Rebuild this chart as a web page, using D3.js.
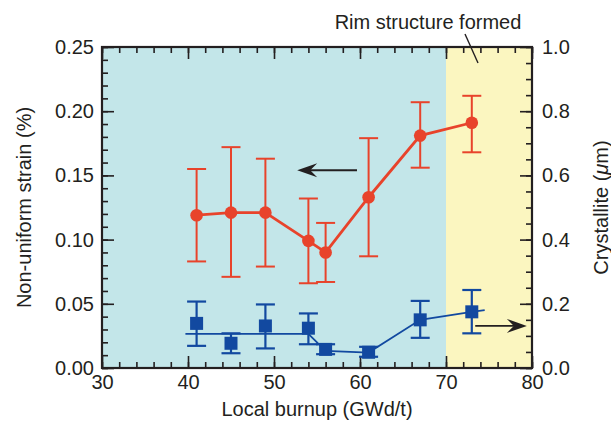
<!DOCTYPE html>
<html>
<head>
<meta charset="utf-8">
<script src="https://cdn.jsdelivr.net/npm/d3@7"></script>
<style>
  html, body { margin: 0; padding: 0; background: #fff; }
  text { font-family: "Liberation Sans", Arial, Helvetica, sans-serif; fill: #231f20; }
</style>
</head>
<body>
<svg id="chart" width="611" height="424"></svg>
<script>
// ---- data ----
const burnup   = [41, 45, 49, 54, 56, 61, 67, 73];
const strain   = [0.119, 0.121, 0.121, 0.099, 0.090, 0.133, 0.181, 0.191];
const strainHi = [0.155, 0.172, 0.163, 0.132, 0.113, 0.179, 0.207, 0.212];
const strainLo = [0.083, 0.071, 0.079, 0.066, 0.067, 0.087, 0.156, 0.168];
const cryst    = [0.139, 0.077, 0.131, 0.124, 0.058, 0.049, 0.150, 0.175];
const crystHi  = [0.207, 0.108, 0.198, 0.170, 0.074, 0.066, 0.209, 0.243];
const crystLo  = [0.069, 0.046, 0.061, 0.074, 0.043, 0.035, 0.094, 0.108];
const trendX   = [39.7, 54, 56, 61, 67, 73, 74.5];
const trendY   = [0.106, 0.106, 0.053, 0.048, 0.150, 0.175, 0.180];
const regionStart = [30, 70];
const regionEnd   = [70, 80];
const xTicks  = [30, 40, 50, 60, 70, 80];
const yLTicks = [0, 0.05, 0.10, 0.15, 0.20, 0.25];
const yRTicks = [0, 0.2, 0.4, 0.6, 0.8, 1.0];

const svg = d3.select("#chart");
const L = 102, R = 532, T = 47, B = 368;
const x  = d3.scaleLinear().domain([30, 80]).range([L, R]);
const yL = d3.scaleLinear().domain([0, 0.25]).range([B, T]);
const yR = d3.scaleLinear().domain([0, 1.0]).range([B, T]);
const RED = "#e8432b", BLUE = "#1249a0", INK = "#231f20";
const FS = 20;

// background regions
const regionColors = ["#c3e6e9", "#fbf6c0"];
svg.selectAll("rect.region").data(regionStart).enter().append("rect")
  .attr("class", "region")
  .attr("x", (d, i) => x(d)).attr("y", T)
  .attr("width", (d, i) => x(regionEnd[i]) - x(d)).attr("height", B - T)
  .attr("fill", (d, i) => regionColors[i]);

// axes helper
function styleAxis(g) {
  g.select(".domain").remove();
  g.selectAll(".tick line").attr("stroke", INK).attr("stroke-width", 1.6);
  g.selectAll("text").style("font-size", FS + "px").attr("fill", INK);
}
const xMinor = d3.range(30, 80.001, 2);
const yLMinor = d3.range(0, 0.2501, 0.01);
const yRMinor = d3.range(0, 1.0001, 0.05);

// bottom
svg.append("g").attr("transform", `translate(0,${B})`)
  .call(d3.axisBottom(x).tickValues(xMinor).tickSizeInner(-6).tickFormat(""))
  .call(styleAxis);
svg.append("g").attr("transform", `translate(0,${B})`)
  .call(d3.axisBottom(x).tickValues(xTicks).tickSizeInner(-12).tickPadding(7).tickFormat(d3.format("d")))
  .call(styleAxis);
// top
svg.append("g").attr("transform", `translate(0,${T})`)
  .call(d3.axisTop(x).tickValues(xMinor).tickSizeInner(-6).tickFormat(""))
  .call(styleAxis);
svg.append("g").attr("transform", `translate(0,${T})`)
  .call(d3.axisTop(x).tickValues(xTicks).tickSizeInner(-12).tickFormat(""))
  .call(styleAxis);
// left
svg.append("g").attr("transform", `translate(${L},0)`)
  .call(d3.axisLeft(yL).tickValues(yLMinor).tickSizeInner(-6).tickFormat(""))
  .call(styleAxis);
svg.append("g").attr("transform", `translate(${L},0)`)
  .call(d3.axisLeft(yL).tickValues(yLTicks).tickSizeInner(-12).tickPadding(8).tickFormat(d3.format(".2f")))
  .call(styleAxis);
// right
svg.append("g").attr("transform", `translate(${R},0)`)
  .call(d3.axisRight(yR).tickValues(yRMinor).tickSizeInner(-6).tickFormat(""))
  .call(styleAxis);
svg.append("g").attr("transform", `translate(${R},0)`)
  .call(d3.axisRight(yR).tickValues(yRTicks).tickSizeInner(-12).tickPadding(10).tickFormat(d3.format(".1f")))
  .call(styleAxis);

// frame
svg.append("rect").attr("x", L).attr("y", T).attr("width", R - L).attr("height", B - T)
  .attr("fill", "none").attr("stroke", INK).attr("stroke-width", 2.2);

// axis titles
svg.append("text").attr("x", (L + R) / 2).attr("y", 416).attr("text-anchor", "middle")
  .style("font-size", FS + "px").text("Local burnup (GWd/t)");
svg.append("text").attr("transform", `translate(31,${(T + B) / 2}) rotate(-90)`)
  .attr("text-anchor", "middle").style("font-size", FS + "px").text("Non-uniform strain (%)");
const rt = svg.append("text").attr("transform", `translate(608,${(T + B) / 2}) rotate(-90)`)
  .attr("text-anchor", "middle").style("font-size", FS + "px");
rt.append("tspan").text("Crystallite (");
rt.append("tspan").style("font-style", "italic").text("\u03bc");
rt.append("tspan").text("m)");

// blue trend line
const idxT = d3.range(trendX.length);
svg.append("path")
  .attr("d", d3.line().x(i => x(trendX[i])).y(i => yR(trendY[i]))(idxT))
  .attr("fill", "none").attr("stroke", BLUE).attr("stroke-width", 1.8);

// blue error bars + squares
const idx = d3.range(burnup.length);
const cap = 9.5;
const gB = svg.append("g").attr("stroke", BLUE).attr("stroke-width", 2.2);
idx.forEach(i => {
  const cx = x(burnup[i]);
  gB.append("line").attr("x1", cx).attr("x2", cx).attr("y1", yR(crystHi[i])).attr("y2", yR(crystLo[i]));
  gB.append("line").attr("x1", cx - cap).attr("x2", cx + cap).attr("y1", yR(crystHi[i])).attr("y2", yR(crystHi[i]));
  gB.append("line").attr("x1", cx - cap).attr("x2", cx + cap).attr("y1", yR(crystLo[i])).attr("y2", yR(crystLo[i]));
});
const sq = 13;
svg.selectAll("rect.sq").data(idx).enter().append("rect")
  .attr("x", i => x(burnup[i]) - sq / 2).attr("y", i => yR(cryst[i]) - sq / 2)
  .attr("width", sq).attr("height", sq).attr("fill", BLUE);

// red line, error bars, circles
svg.append("path")
  .attr("d", d3.line().x(i => x(burnup[i])).y(i => yL(strain[i]))(idx))
  .attr("fill", "none").attr("stroke", RED).attr("stroke-width", 2.8);
const gR = svg.append("g").attr("stroke", RED).attr("stroke-width", 2);
idx.forEach(i => {
  const cx = x(burnup[i]);
  gR.append("line").attr("x1", cx).attr("x2", cx).attr("y1", yL(strainHi[i])).attr("y2", yL(strainLo[i]));
  gR.append("line").attr("x1", cx - cap).attr("x2", cx + cap).attr("y1", yL(strainHi[i])).attr("y2", yL(strainHi[i]));
  gR.append("line").attr("x1", cx - cap).attr("x2", cx + cap).attr("y1", yL(strainLo[i])).attr("y2", yL(strainLo[i]));
});
svg.selectAll("circle.pt").data(idx).enter().append("circle")
  .attr("cx", i => x(burnup[i])).attr("cy", i => yL(strain[i])).attr("r", 6.3).attr("fill", RED);

// arrows
function arrow(x1, y1, x2, y2) {
  svg.append("line").attr("x1", x1).attr("y1", y1).attr("x2", x2 - Math.sign(x2 - x1) * 8).attr("y2", y2)
    .attr("stroke", INK).attr("stroke-width", 1.8);
  const d = Math.sign(x2 - x1);
  svg.append("path")
    .attr("d", `M${x2},${y2} L${x2 - d * 20},${y2 - 7} L${x2 - d * 13},${y2} L${x2 - d * 20},${y2 + 7} Z`)
    .attr("fill", INK);
}
arrow(x(59.65), yL(0.154), x(52.7), yL(0.154));
arrow(x(73.4), yR(0.131), x(79.4), yR(0.131));

// annotation
svg.append("text").attr("x", 428).attr("y", 29).attr("text-anchor", "middle")
  .style("font-size", FS + "px").text("Rim structure formed");
svg.append("line").attr("x1", 465).attr("y1", 34).attr("x2", 478).attr("y2", 63)
  .attr("stroke", INK).attr("stroke-width", 1.4);
</script>
</body>
</html>
